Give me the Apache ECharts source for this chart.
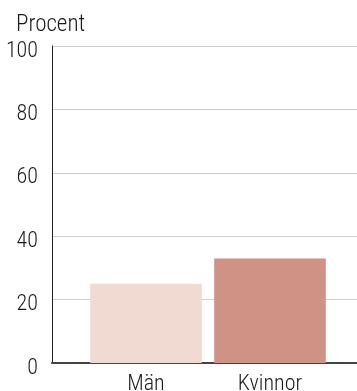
<!DOCTYPE html>
<html>
<head>
<meta charset="utf-8">
<script src="https://cdn.jsdelivr.net/npm/echarts@6/dist/echarts.min.js"></script>
<style>
  html, body { margin: 0; padding: 0; background: #fff; }
  #chart { width: 357px; height: 391px; }
</style>
</head>
<body>
<div id="chart"></div>
<script>
// Share of men and women, in percent
const categories = ['Män', 'Kvinnor'];
const values = [25, 33];
const barColors = ['#f0dad2', '#cf9284'];
const yTicks = [0, 20, 40, 60, 80, 100];

// condensed light face; the stretch keyword rides along in the weight slot of the canvas font string
const font = 'Roboto, "Liberation Sans", sans-serif';
const weight = 'condensed 300';
const textColor = '#1a1a1a';

const chart = echarts.init(document.getElementById('chart'), null, { renderer: 'canvas' });

chart.setOption({
  animation: false,
  textStyle: { fontFamily: font },
  title: {
    text: 'Procent',
    left: 11,
    top: 9,
    textStyle: { fontFamily: font, fontSize: 23, fontWeight: weight, color: textColor }
  },
  grid: [
    // frame with value axis and gridlines
    { left: 52, right: 0, top: 46, bottom: 28, containLabel: false, outerBoundsMode: 'none' },
    // bars
    { left: 84, right: 25, top: 46, bottom: 28, containLabel: false, outerBoundsMode: 'none' }
  ],
  xAxis: [
    {
      gridIndex: 0, type: 'value', min: 0, max: 1, show: true,
      axisLine: { show: true, lineStyle: { color: '#444', width: 2 } },
      axisTick: { show: false }, axisLabel: { show: false }, splitLine: { show: false }
    },
    {
      gridIndex: 1, type: 'category', data: categories,
      axisLine: { show: false }, axisTick: { show: false },
      axisLabel: { fontFamily: font, fontSize: 22, fontWeight: weight, color: textColor, margin: 10 }
    }
  ],
  yAxis: [
    {
      gridIndex: 0, type: 'value', min: yTicks[0], max: yTicks[yTicks.length - 1], interval: 20,
      axisLine: { show: true, lineStyle: { color: '#222', width: 1 } },
      axisTick: { show: false },
      axisLabel: {
        fontFamily: font, fontSize: 22, fontWeight: weight, color: textColor,
        margin: 14, verticalAlign: 'top', lineHeight: 22, padding: [-6, 0, 0, 0]
      },
      splitLine: { show: true, lineStyle: { color: '#cfcfcf', width: 1 } }
    },
    {
      gridIndex: 1, type: 'value', min: 0, max: 100, show: false
    }
  ],
  series: [
    {
      type: 'bar',
      xAxisIndex: 1,
      yAxisIndex: 1,
      barCategoryGap: '10%',
      data: values.map((v, i) => ({ value: v, itemStyle: { color: barColors[i] } }))
    }
  ]
});
</script>
</body>
</html>
